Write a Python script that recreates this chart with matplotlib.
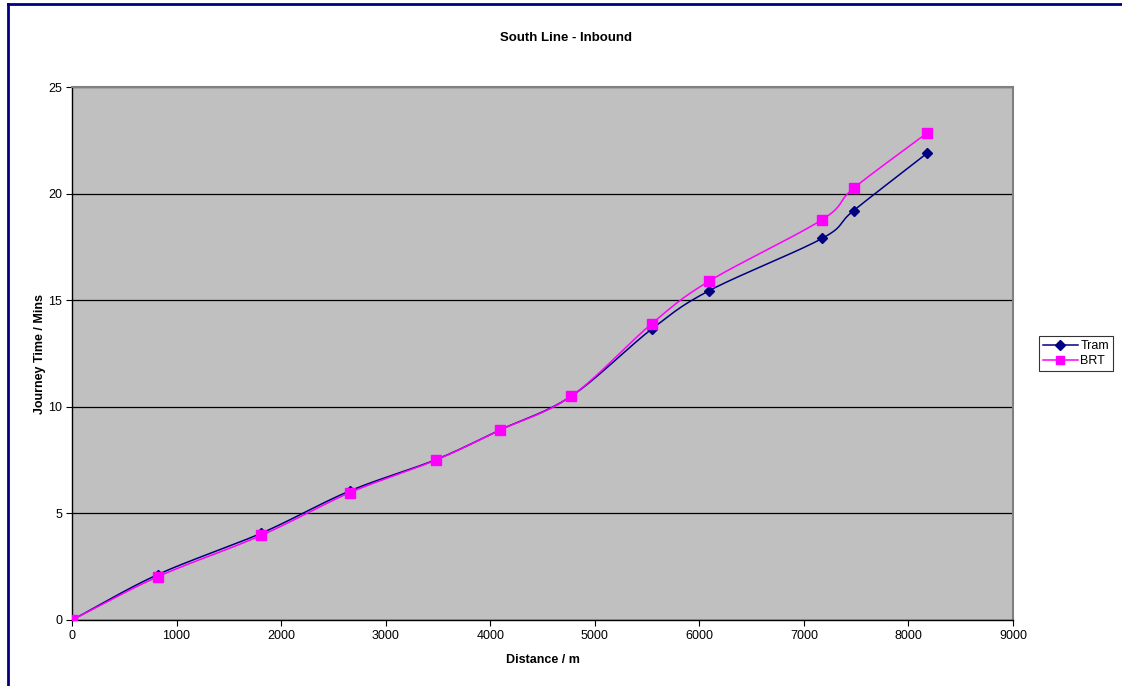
import numpy as np
import matplotlib
matplotlib.use("Agg")
import matplotlib.pyplot as plt
from matplotlib.lines import Line2D

plt.rcParams['font.family'] = ['Liberation Sans', 'DejaVu Sans']

distance = [0, 820, 1810, 2655, 3480, 4095, 4775, 5545, 6095, 7175, 7475, 8180]
tram = [0, 2.13, 4.07, 6.05, 7.52, 8.92, 10.5, 13.65, 15.45, 17.9, 19.2, 21.9]
brt = [0, 2.03, 3.97, 5.97, 7.5, 8.91, 10.5, 13.9, 15.9, 18.78, 20.25, 22.85]
xticks = [0, 1000, 2000, 3000, 4000, 5000, 6000, 7000, 8000, 9000]
yticks = [0, 5, 10, 15, 20, 25]


def smooth(x, y, n=30):
    # Excel-style smoothed line (Catmull-Rom through the data points)
    x = np.asarray(x, float)
    y = np.asarray(y, float)
    px = np.concatenate([[2 * x[0] - x[1]], x, [2 * x[-1] - x[-2]]])
    py = np.concatenate([[2 * y[0] - y[1]], y, [2 * y[-1] - y[-2]]])
    xs, ys = [], []
    t = np.linspace(0, 1, n)
    for i in range(1, len(px) - 2):
        p0x, p1x, p2x, p3x = px[i - 1:i + 3]
        p0y, p1y, p2y, p3y = py[i - 1:i + 3]
        c1x, c1y = p1x + (p2x - p0x) / 6, p1y + (p2y - p0y) / 6
        c2x, c2y = p2x - (p3x - p1x) / 6, p2y - (p3y - p1y) / 6
        bx = (1 - t) ** 3 * p1x + 3 * (1 - t) ** 2 * t * c1x + 3 * (1 - t) * t ** 2 * c2x + t ** 3 * p2x
        by = (1 - t) ** 3 * p1y + 3 * (1 - t) ** 2 * t * c1y + 3 * (1 - t) * t ** 2 * c2y + t ** 3 * p2y
        xs.extend(bx)
        ys.extend(by)
    return np.array(xs), np.array(ys)


fig = plt.figure(figsize=(11.22, 6.86), dpi=100)
W, H = 1122, 686
ax = fig.add_axes([72 / W, (H - 620) / H, (1013 - 72) / W, (620 - 87) / H])
ax.set_facecolor('#c0c0c0')

tram_c = '#000080'
brt_c = '#ff00ff'

sx, sy = smooth(distance, tram)
ax.plot(sx, sy, color=tram_c, lw=1.1, zorder=3)
ax.plot(distance, tram, ls='none', marker='D', ms=5, color=tram_c, zorder=4)
sx, sy = smooth(distance, brt)
ax.plot(sx, sy, color=brt_c, lw=1.1, zorder=5)
ax.plot(distance, brt, ls='none', marker='s', ms=7, color=brt_c, zorder=6)

ax.set_xlim(0, 9000)
ax.set_ylim(0, 25)
ax.set_xticks(xticks)
ax.set_yticks(yticks)
ax.tick_params(labelsize=9, length=4, direction='out', color='black', pad=3)
ax.yaxis.grid(True, color='black', lw=0.9)
ax.set_axisbelow(True)
for s in ['top', 'right']:
    ax.spines[s].set_color('#808080')
    ax.spines[s].set_linewidth(1.5)
for s in ['left', 'bottom']:
    ax.spines[s].set_color('black')
    ax.spines[s].set_linewidth(1.0)

ax.set_xlabel('Distance / m', fontsize=9, fontweight='bold', labelpad=9)
ax.set_ylabel('Journey Time / Mins', fontsize=9, fontweight='bold', labelpad=2)
fig.text(566 / W, 1 - 38 / H, 'South Line - Inbound', ha='center', va='center',
         fontsize=9.5, fontweight='bold')

handles = [Line2D([], [], color=tram_c, marker='D', ms=5, lw=1.1),
           Line2D([], [], color=brt_c, marker='s', ms=6, lw=1.1)]
leg = fig.legend(handles, ['Tram', 'BRT'], loc='center', bbox_to_anchor=(1076 / W, 1 - 353.5 / H),
                 fontsize=9, frameon=True, fancybox=False, edgecolor='black',
                 handlelength=2.8, borderpad=0.35, labelspacing=0.25, handletextpad=0.2,
                 borderaxespad=0)
leg.get_frame().set_linewidth(0.8)

# chart area border (left and top edges visible)
fig.add_artist(Line2D([7.5 / W, 7.5 / W], [0, 1 - 4 / H], color='#000080', lw=2, transform=fig.transFigure))
fig.add_artist(Line2D([7.5 / W, 1], [1 - 4 / H, 1 - 4 / H], color='#000080', lw=2, transform=fig.transFigure))

fig.savefig('out.png', dpi=100)
